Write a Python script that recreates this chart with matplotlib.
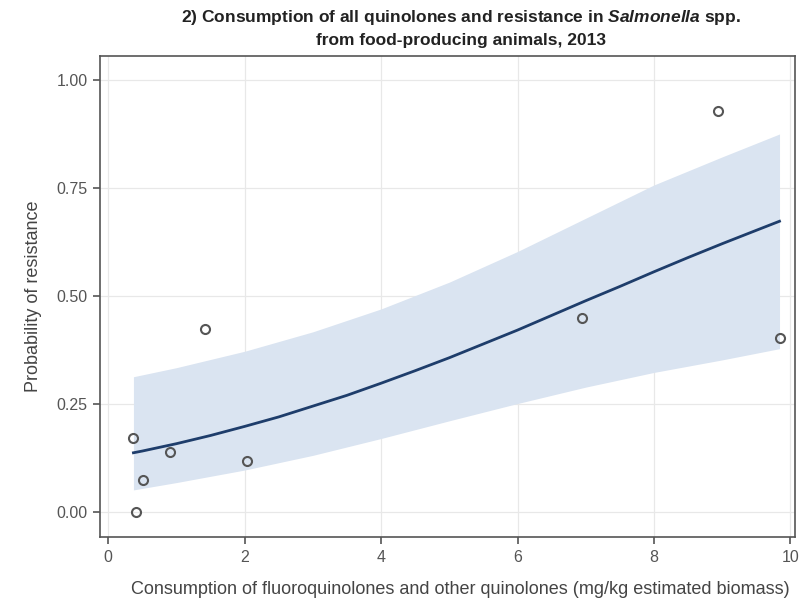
import matplotlib
matplotlib.use("Agg")
import matplotlib.pyplot as plt

# observed countries: consumption vs share resistant
consumption = [0.37, 0.41, 0.51, 0.91, 1.42, 2.03, 6.94, 8.94, 9.84]
resistance = [0.171, 0.0, 0.074, 0.139, 0.424, 0.118, 0.449, 0.929, 0.403]

# fitted probability
fit_x = [0.37, 0.5, 1, 1.5, 2, 2.5, 3, 3.5, 4, 4.5, 5, 5.5, 6, 6.5, 7, 7.5,
         8, 8.5, 9, 9.5, 9.84]
fit_y = [0.137, 0.141, 0.158, 0.177, 0.198, 0.220, 0.245, 0.270, 0.298, 0.327,
         0.357, 0.389, 0.421, 0.455, 0.489, 0.522, 0.556, 0.589, 0.621, 0.652, 0.673]

# confidence band
ci_x = [0.37, 1, 2, 3, 4, 5, 6, 7, 8, 9, 9.84]
ci_upper = [0.313, 0.334, 0.372, 0.417, 0.470, 0.532, 0.603, 0.680, 0.757, 0.822, 0.875]
ci_lower = [0.051, 0.068, 0.097, 0.131, 0.170, 0.211, 0.251, 0.289, 0.323, 0.352, 0.378]

x_ticks = [0, 2, 4, 6, 8, 10]
y_ticks = [0.0, 0.25, 0.5, 0.75, 1.0]

plt.rcParams['font.family'] = ['Liberation Sans', 'DejaVu Sans']
plt.rcParams['mathtext.fontset'] = 'custom'
plt.rcParams['mathtext.it'] = 'Liberation Sans:italic:bold'

fig = plt.figure(figsize=(8, 6), dpi=100)
ax = fig.add_axes([0.125, 0.105, 0.869, 0.802])

ax.fill_between(ci_x, ci_lower, ci_upper, color='#dae4f1', lw=0, zorder=1)
ax.plot(fit_x, fit_y, color='#1e3d6b', lw=2, zorder=3)
ax.plot(consumption, resistance, 'o', ms=6.5, mfc='none', mec='#555555',
        mew=1.5, zorder=4)

ax.set_xlim(-0.12, 10.07)
ax.set_ylim(-0.058, 1.056)
ax.set_xticks(x_ticks)
ax.set_yticks(y_ticks)
ax.set_yticklabels(['%.2f' % v for v in y_ticks])
ax.grid(True, color='#e8e8e8', lw=0.9, zorder=0)
ax.set_axisbelow(True)

for s in ax.spines.values():
    s.set_color('#555555')
    s.set_linewidth(1.2)
ax.tick_params(direction='out', length=5, width=1.2, color='#555555',
               labelsize=11.5, labelcolor='#555555', pad=4)

ax.set_ylabel('Probability of resistance', fontsize=13, color='#444444')
ax.yaxis.set_label_coords(-0.083, 0.5)
ax.set_xlabel('Consumption of fluoroquinolones and other quinolones (mg/kg estimated biomass)',
              fontsize=13, color='#444444')
ax.xaxis.set_label_coords(0.519, -0.092)

fig.text(0.576, 0.971, r'2) Consumption of all quinolones and resistance in $\mathit{Salmonella}$ spp.',
         ha='center', va='center', fontsize=12.5, fontweight='bold', color='#222222')
fig.text(0.576, 0.933, 'from food-producing animals, 2013',
         ha='center', va='center', fontsize=12.5, fontweight='bold', color='#222222')

fig.savefig('out.png', dpi=100)
